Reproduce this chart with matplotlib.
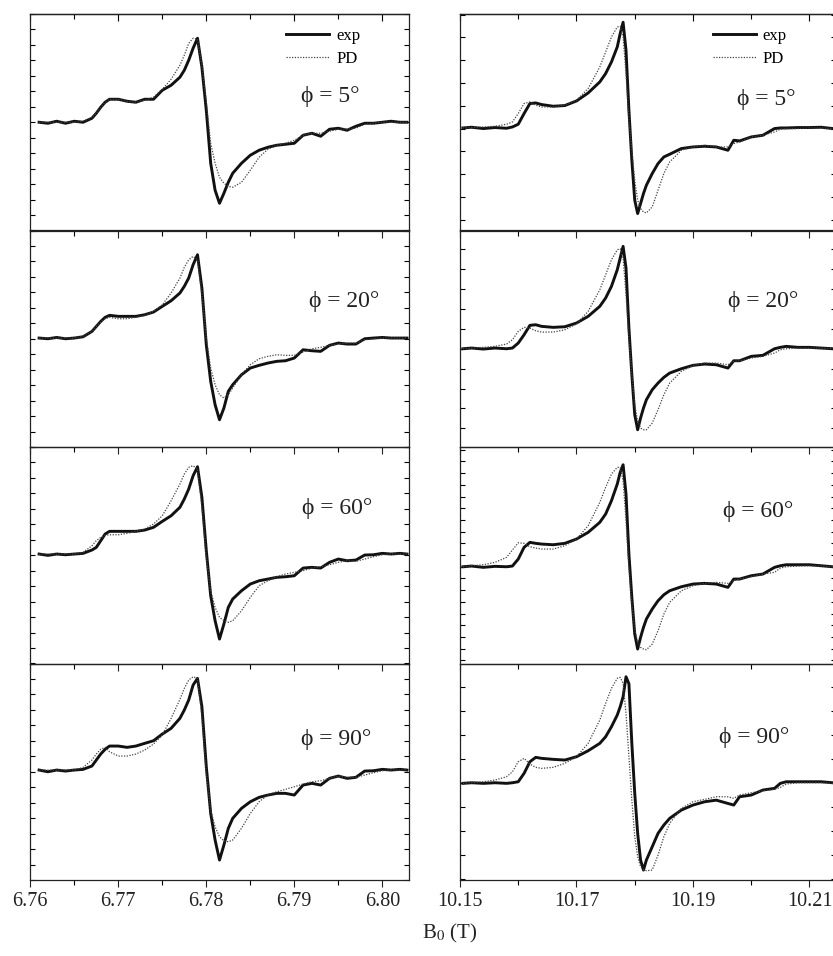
import numpy as np
import matplotlib
matplotlib.use('Agg')
import matplotlib.pyplot as plt
from matplotlib.ticker import FixedLocator, FormatStrFormatter

plt.rcParams['font.family'] = ['Liberation Serif', 'DejaVu Serif']
plt.rcParams['mathtext.fontset'] = 'stix'

# magnetic field sample points (T)
b_left = [6.761, 6.762, 6.763, 6.764, 6.765, 6.766, 6.767, 6.7675, 6.768, 6.7685,
          6.769, 6.770, 6.771, 6.772, 6.773, 6.774, 6.775, 6.776, 6.777, 6.7775,
          6.778, 6.7785, 6.779, 6.7795, 6.780, 6.7805, 6.781, 6.7815, 6.782, 6.7825,
          6.783, 6.784, 6.785, 6.786, 6.787, 6.788, 6.789, 6.790, 6.791, 6.792,
          6.793, 6.794, 6.795, 6.796, 6.797, 6.798, 6.799, 6.800, 6.801, 6.802, 6.8028]
b_right = [10.1505, 10.152, 10.154, 10.156, 10.158, 10.159, 10.160, 10.161, 10.162, 10.163,
           10.164, 10.166, 10.168, 10.170, 10.172, 10.174, 10.175, 10.176, 10.177, 10.1775,
           10.178, 10.1785, 10.179, 10.1795, 10.180, 10.1805, 10.181, 10.1815, 10.182, 10.183,
           10.184, 10.185, 10.186, 10.188, 10.190, 10.192, 10.194, 10.196, 10.197, 10.198,
           10.200, 10.202, 10.204, 10.205, 10.206, 10.208, 10.210, 10.212, 10.214]

angles = [5, 20, 60, 90]

# left column (6.78 T) - experiment / PD simulation, arb. units
exp_l5 = [0, -1, 1, -1, 1, 0, 4, 9, 15, 20, 23, 23, 21, 20, 23, 23, 32, 37, 45, 52, 62, 74, 84, 55, 12,
          -41, -68, -81, -71, -60, -51, -41, -33, -28, -25, -23, -22, -21, -13, -11, -14, -7, -6, -8,
          -4, -1, -1, 0, 1, 0, 0]
pd_l5 = [0, 0, 0, 0, 0, 1, 5, 9, 15, 20, 23, 23, 21, 20, 22, 25, 33, 43, 57, 67, 79, 84, 83, 57, 20,
         -21, -41, -55, -61, -64, -65, -60, -48, -35, -27, -23, -21, -18, -13, -11, -11, -9, -7, -7,
         -6, -2, -1, 0, 0, 0, 0]
exp_l20 = [0.7, 0, 1.3, 0, 0.7, 2, 7.3, 12.3, 17.3, 21.4, 23.4, 22.4, 22.4, 22.4, 24, 26.7, 32.4, 38,
           45.7, 52.4, 60.7, 74, 84, 50.7, -6, -42.6, -66, -81, -69.3, -52.6, -46, -36, -29.3, -26.6,
           -24.3, -22.6, -22, -19.3, -11, -12, -12.6, -6.6, -4.3, -5.3, -5.3, 0, 0.7, 1.3, 0.7, 0.7, 0.7]
pd_l20 = [0.7, 0.7, 0.7, 0.7, 0.7, 2.4, 7.3, 12.3, 16.7, 20, 21.4, 20, 20, 21.4, 23.4, 27.4, 34, 45.7,
          60.7, 71.4, 79, 82.4, 79, 44, 0.7, -29.3, -46, -56, -59.3, -56, -49.3, -36, -26, -20, -17.6,
          -16, -16.6, -16.6, -13.3, -10, -8.6, -6.6, -5.3, -4.3, -4.3, -1, 0, 0.7, 0.7, 0.7, 0.7]
exp_l60 = [1.2, -0.1, 1.2, 0.5, 1.2, 1.9, 5.2, 7.9, 14.5, 21.2, 23.9, 23.9, 23.9, 23.9, 25.2, 27.9,
           33.9, 39.5, 47.9, 56.2, 66.2, 79.5, 88.5, 57.9, 4.5, -40.5, -65.5, -83.8, -68.8, -52.1,
           -43.8, -35.5, -28.8, -25.5, -23.8, -22.1, -21.5, -20.5, -12.8, -12.1, -12.8, -7.1, -3.8,
           -5.5, -4.8, 0.2, 0.5, 1.9, 1.2, 1.9, 1.2]
pd_l60 = [1.2, 1.2, 1.2, 1.2, 1.2, 2.9, 9.5, 14.5, 17.9, 19.9, 20.5, 20.5, 21.9, 23.9, 26.2, 31.2, 39.5,
          54.5, 71.2, 81.2, 87.9, 89.5, 86.2, 47.9, -2.1, -35.5, -52.1, -62.1, -65.5, -67.1, -65.5,
          -55.5, -42.1, -30.5, -25.5, -21.5, -18.8, -17.1, -15.5, -12.8, -11.5, -9.5, -7.1, -5.5, -6.1,
          -3.8, -1.5, 0.5, 1.2, 1.2, 1.2]
exp_l90 = [1.7, 0, 1.7, 0.7, 1.7, 2.4, 5.7, 11.7, 17.7, 22.4, 25.7, 25.7, 24.4, 25.7, 28.4, 31, 37.7,
           43.4, 53.4, 61.7, 71.7, 86.7, 93.4, 65, 5, -41.6, -68.3, -88.3, -73.3, -56.6, -46.6, -36.6,
           -30, -25.6, -23.3, -21.6, -21.6, -23.3, -13.3, -11.6, -13.3, -6.6, -4.3, -6.6, -5.6, 0.7, 1,
           2.4, 1.7, 2.4, 1.7]
pd_l90 = [1.7, 1.7, 1.7, 1.7, 1.7, 4.4, 11.7, 17.7, 22.4, 24.4, 20, 15.7, 15.7, 17.7, 21.7, 27.7, 36.7,
          53.4, 72.4, 83.4, 91.7, 95, 93.4, 55, -1.6, -38.3, -55, -65, -69, -70, -68.3, -56.6, -41.6,
          -30, -23.3, -20, -17.6, -15, -12.3, -10, -9, -6.6, -4.3, -5.6, -5.6, -3.3, -1, 1, 1.7, 1.7, 1.7]

# right column (10.18 T)
exp_r5 = [-5.7, -5, -6.3, -5.3, -6, -4.7, -2, 8.7, 18.7, 19.3, 17.7, 16, 16.7, 21.3, 29.3, 40.3, 48.7,
          60.3, 75.3, 88.7, 100, 72, 12, -38, -78, -91.3, -81.3, -71.3, -63, -51.3, -41.3, -34.7, -32,
          -26.3, -24.7, -24, -24.7, -28, -18, -18.7, -14.7, -13, -6.3, -5.7, -5.7, -5.3, -5.3, -5, -6.3]
pd_r5 = [-5.7, -5.3, -4.7, -4, -2, 0.3, 8.7, 18.7, 20.3, 17, 15.3, 15.3, 17, 22, 33.7, 55.3, 70.3, 85.3,
         95.3, 96, 85.3, 48.7, 2, -28, -58, -78, -86.3, -89.7, -90.7, -84.7, -68, -51.3, -39.7, -28,
         -24.7, -23, -24.7, -24.7, -21.3, -19.7, -14.7, -13, -9.7, -7, -6.3, -6.3, -5.7, -5.7, -6.3]
exp_r20 = [-10, -9.3, -10.3, -9.3, -10, -9.3, -4.3, 4, 13.4, 14, 12.4, 11.4, 12, 15.7, 22.4, 32.4, 40.7,
           52.4, 69, 80.7, 92.4, 70.7, 10.7, -36, -76, -91, -79.3, -69.3, -61, -51, -44.3, -38.6,
           -34.3, -30, -26.6, -25.3, -26, -29.3, -22, -22, -17.6, -16.6, -10, -8.6, -7.6, -8.6, -8.6,
           -9.3, -10]
pd_r20 = [-10, -9.3, -8.6, -7.6, -5.3, -1, 7.4, 11.4, 10.7, 8, 6.7, 6.7, 9, 14.7, 27.4, 49, 64, 79, 89,
          90, 80.7, 44, 0.7, -36, -66, -82.6, -89.3, -91, -91, -84.3, -71, -56, -44.3, -32.6, -26.6,
          -24.3, -24.3, -26, -22.6, -22, -19.3, -17.6, -14.3, -11, -10, -9.3, -9.3, -9.3, -10]
exp_r60 = [-11.5, -10.8, -12.1, -11.1, -11.5, -10.8, -3.8, 7.9, 12.9, 11.9, 11.2, 10.5, 11.9, 16.2, 22.9,
           32.9, 41.2, 54.5, 71.2, 82.9, 90.5, 61.2, 1.2, -42.1, -78.8, -93.8, -82.1, -72.1, -63.8,
           -53.8, -45.5, -39.5, -35.5, -31.5, -28.8, -28.1, -28.8, -32.1, -23.8, -23.8, -20.5, -18.8,
           -12.1, -10.5, -9.5, -9.5, -9.5, -10.5, -11.5]
pd_r60 = [-11.5, -10.5, -9.5, -7.1, -2.1, 5.2, 12.5, 11.9, 8.5, 7.2, 6.2, 6.2, 9.5, 16.2, 29.5, 52.9, 67.9,
          81.2, 87.9, 87.9, 74.5, 34.5, -12.1, -48.8, -73.8, -87.1, -92.1, -93.8, -94.5, -88.8, -75.5,
          -58.8, -47.1, -35.5, -30.5, -28.1, -27.1, -28.1, -25.5, -23.8, -21.5, -18.8, -17.1, -12.8,
          -11.5, -10.8, -10.5, -10.8, -11.5]
exp_r90 = [-11.6, -11, -11.6, -11, -11.6, -11, -10, -1.6, 10, 14.4, 13.4, 12.4, 11.7, 15, 21, 28.4, 35,
           45, 56.7, 65, 75, 95, 88, 28.4, -21.6, -61.6, -88.3, -98.3, -88.3, -75, -61.6, -53.3, -46.6,
           -38.3, -33.3, -30, -28.4, -31.7, -33.3, -25, -23.3, -18.3, -16.6, -11.6, -10, -10, -10, -10,
           -11]
pd_r90 = [-11.6, -11, -10, -8.3, -5, 0, 10, 13.4, 7.7, 4.4, 3.4, 4.4, 8.4, 15, 28.4, 51.7, 68.4, 83.4,
          93.4, 94.4, 88.4, 58.4, 15, -28.4, -65, -85, -95, -97.6, -99, -98.3, -83.3, -65, -51.6, -36.6,
          -30, -27.6, -25, -25, -26.6, -23.3, -21, -19, -17.6, -15.6, -12.3, -11, -11, -11, -11.6]

exp_left = [exp_l5, exp_l20, exp_l60, exp_l90]
pd_left = [pd_l5, pd_l20, pd_l60, pd_l90]
exp_right = [exp_r5, exp_r20, exp_r60, exp_r90]
pd_right = [pd_r5, pd_r20, pd_r60, pd_r90]

xmaj_left = [6.76, 6.77, 6.78, 6.79, 6.80]
xmin_left = [6.765, 6.775, 6.785, 6.795]
xmaj_right = [10.15, 10.17, 10.19, 10.21]
xmin_right = [10.16, 10.18, 10.20]

# y tick step / offset of the right panels (they differ row to row)
ystep_right = [22.8, 19.9, 11.7, 24.0]
yoff_right = [-6.3, -10.0, -11.5, -11.0]

# phi label positions (axes fraction)
lab_left = [(0.792, 0.617), (0.829, 0.674), (0.812, 0.714), (0.808, 0.647)]
lab_right = [(0.816, 0.603), (0.806, 0.674), (0.793, 0.704), (0.783, 0.656)]

W, Hfig = 833, 956
fig = plt.figure(figsize=(W / 100, Hfig / 100), dpi=100)
H = 216.5 / Hfig
top = 1 - 14 / Hfig
YL = 108.25

def style(ax, row, xmaj, xmin, yticks):
    ax.patch.set_visible(False)
    ax.set_ylim(-YL, YL)
    ax.xaxis.set_major_locator(FixedLocator(xmaj))
    ax.xaxis.set_minor_locator(FixedLocator(xmin))
    ax.xaxis.set_major_formatter(FormatStrFormatter('%.2f'))
    ax.yaxis.set_major_locator(FixedLocator(yticks))
    ax.yaxis.set_minor_locator(FixedLocator([]))
    ax.tick_params(axis='x', which='major', direction='out', length=5, width=0.8,
                   top=False, bottom=True, labelbottom=(row == 3), labelsize=14.5,
                   pad=4, colors='#222222')
    ax.tick_params(axis='x', which='minor', direction='out', length=3.5, width=0.8,
                   top=False, bottom=True)
    ax.tick_params(axis='y', which='both', direction='in', length=3.5, width=0.8,
                   left=True, right=True, labelleft=False)
    for s in ax.spines.values():
        s.set_linewidth(0.9)
        s.set_color('#222222')
    if row == 0:
        sec = ax.secondary_xaxis('top')
        sec.xaxis.set_major_locator(FixedLocator(xmaj))
        sec.xaxis.set_minor_locator(FixedLocator(xmin))
        sec.tick_params(axis='x', which='major', direction='in', length=5, width=0.8, labeltop=False)
        sec.tick_params(axis='x', which='minor', direction='in', length=3.5, width=0.8)
        sec.spines['top'].set_linewidth(0.9)

for r in range(4):
    bottom = top - (r + 1) * H
    axl = fig.add_axes([30.3 / W, bottom, 378.4 / W, H])
    axr = fig.add_axes([460 / W, bottom, 375.7 / W, H])

    axl.plot(b_left, exp_left[r], color='#111111', lw=2.1, solid_joinstyle='round', label='exp')
    axl.plot(b_left, pd_left[r], color='#444444', lw=0.9, linestyle=(0, (1, 1.2)), label='PD')
    axl.set_xlim(6.76, 6.803)
    style(axl, r, xmaj_left, xmin_left, np.linspace(-YL, YL, 15))

    axr.plot(b_right, exp_right[r], color='#111111', lw=2.1, solid_joinstyle='round', label='exp')
    axr.plot(b_right, pd_right[r], color='#444444', lw=0.9, linestyle=(0, (1, 1.2)), label='PD')
    axr.set_xlim(10.15, 10.2145)
    yt = np.arange(yoff_right[r] - 10 * ystep_right[r], YL, ystep_right[r])
    yt = yt[yt > -YL]
    style(axr, r, xmaj_right, xmin_right, yt)

    axl.text(lab_left[r][0], lab_left[r][1], '\u03d5 = %d\u00b0' % angles[r], transform=axl.transAxes,
             ha='center', va='center', fontsize=17, color='#222222')
    axr.text(lab_right[r][0], lab_right[r][1], '\u03d5 = %d\u00b0' % angles[r], transform=axr.transAxes,
             ha='center', va='center', fontsize=17, color='#222222')

    if r == 0:
        for ax, x0 in ((axl, 0.676), (axr, 0.673)):
            ax.legend(loc='upper left', bbox_to_anchor=(x0, 0.935), frameon=False, fontsize=12,
                      handlelength=2.6, handletextpad=0.4, borderpad=0, borderaxespad=0,
                      labelspacing=0.4)

fig.text(450 / W, 1 - 933 / Hfig, r'B$_0$ (T)', ha='center', va='center', fontsize=15, color='#222222')

fig.savefig('out.png', dpi=100)
